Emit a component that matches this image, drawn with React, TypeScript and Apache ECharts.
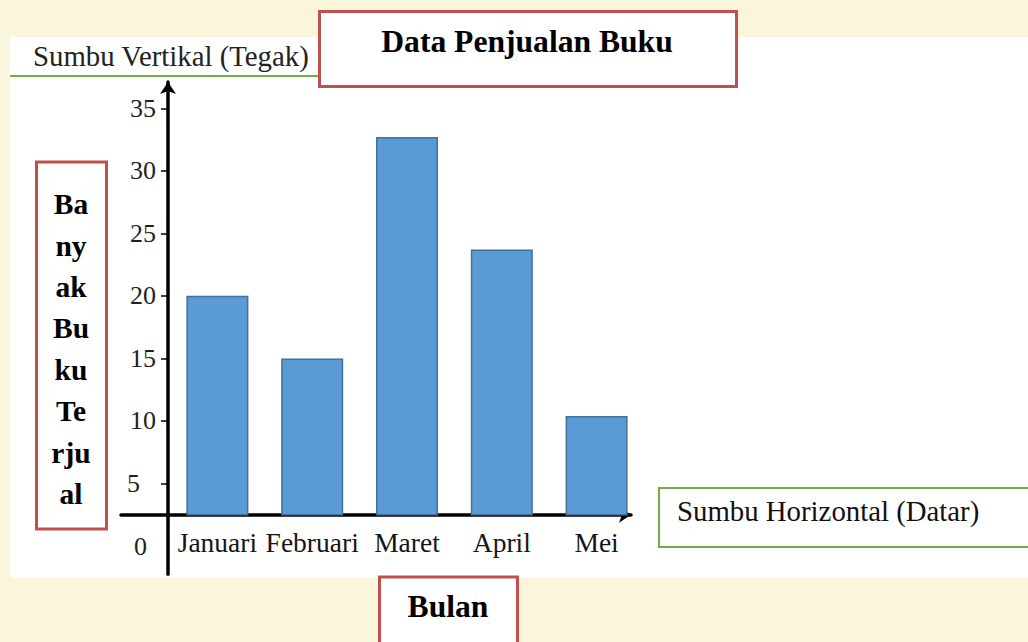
import React, { useEffect, useRef } from 'react';
import * as echarts from 'echarts';

// ---- data ----
const months = ['Januari', 'Februari', 'Maret', 'April', 'Mei'];
const booksSold = [20, 15, 32.7, 23.7, 10.4];
const yTickValues = [5, 10, 15, 20, 25, 30, 35];
const yLabelValues = [0, 5, 10, 15, 20, 25, 30, 35];
const xAxisBase = 2.5; // value where the horizontal axis line sits
const yMin = -2.25;
const yMax = 37.1;

// ---- texts ----
const chartTitle = 'Data Penjualan Buku';
const yAxisTitleLines = ['Ba', 'ny', 'ak', 'Bu', 'ku', 'Te', 'rju', 'al'];
const xAxisTitle = 'Bulan';
const verticalNote = 'Sumbu Vertikal (Tegak)';
const horizontalNote = 'Sumbu Horizontal (Datar)';

const SERIF = '"Liberation Serif", "Times New Roman", serif';
const RED = '#c0504d';
const GREEN = '#70ad47';

export default function App() {
  const ref = useRef<HTMLDivElement>(null);

  useEffect(() => {
    if (!ref.current) return;
    const chart = echarts.init(ref.current, undefined, { renderer: 'svg' });

    const unitPx = 12.507;
    const gridTop = 82;
    const frameHeight = (yMax - yMin) * unitPx;
    const barHeight = (yMax - xAxisBase) * unitPx;
    const frameLeft = 121;
    const yAxisX = 168;

    const option: any = {
      animation: false,
      backgroundColor: '#f9f6dc',
      grid: [
        { left: 170, width: 474, top: gridTop, height: barHeight, containLabel: false },
        { left: frameLeft, width: 510, top: gridTop, height: frameHeight, containLabel: false },
      ],
      xAxis: [
        {
          gridIndex: 0,
          type: 'category',
          data: months,
          boundaryGap: true,
          axisLine: { show: false },
          axisTick: { show: false },
          axisLabel: {
            interval: 0,
            margin: 14,
            fontSize: 27.5,
            fontFamily: SERIF,
            color: '#151515',
          },
          splitLine: { show: false },
        },
        {
          gridIndex: 1,
          type: 'value',
          min: 0,
          max: 1,
          offset: -(xAxisBase - yMin) * unitPx,
          axisLine: {
            show: true,
            onZero: false,
            symbol: ['none', 'arrow'],
            symbolSize: [12, 12],
            lineStyle: { color: '#000', width: 3.5 },
          },
          axisTick: { show: false },
          axisLabel: { show: false },
          splitLine: { show: false },
        },
      ],
      yAxis: [
        {
          gridIndex: 0,
          type: 'value',
          min: xAxisBase,
          max: yMax,
          show: false,
          splitLine: { show: false },
        },
        {
          gridIndex: 1,
          type: 'value',
          min: yMin,
          max: yMax,
          offset: frameLeft - yAxisX,
          axisLine: {
            show: true,
            onZero: false,
            symbol: ['none', 'arrow'],
            symbolSize: [12, 12],
            lineStyle: { color: '#000', width: 3.5 },
          },
          axisTick: {
            show: true,
            length: 7,
            customValues: yTickValues,
            lineStyle: { color: '#000', width: 1.5 },
          },
          axisLabel: {
            customValues: yLabelValues,
            margin: 12,
            fontSize: 26,
            fontFamily: SERIF,
            color: '#1f1f1f',
            formatter: (v: number) =>
              v === 0 ? '{z|0}' : v === 5 ? '{f|5}' : String(v),
            rich: {
              z: { padding: [0, 9, 0, 0], fontSize: 26, fontFamily: SERIF, color: '#1f1f1f' },
              f: { padding: [0, 16, 0, 0], fontSize: 26, fontFamily: SERIF, color: '#1f1f1f' },
            },
          },
          splitLine: { show: false },
        },
      ],
      series: [
        {
          type: 'bar',
          xAxisIndex: 0,
          yAxisIndex: 0,
          data: booksSold,
          barWidth: 62,
          clip: true,
          itemStyle: { color: '#5b9bd5', borderColor: '#41719c', borderWidth: 1.5 },
        },
      ],
      graphic: [
        {
          type: 'rect',
          z: -10,
          silent: true,
          shape: { x: 10, y: 37, width: 1018, height: 541 },
          style: { fill: '#ffffff' },
        },
        {
          type: 'line',
          z: 5,
          shape: { x1: 10, y1: 76, x2: 318, y2: 76 },
          style: { stroke: GREEN, lineWidth: 2 },
        },
        {
          type: 'text',
          z: 6,
          style: {
            text: verticalNote,
            x: 33,
            y: 56,
            fontSize: 28.8,
            fontFamily: SERIF,
            fill: '#222',
            align: 'left',
            verticalAlign: 'middle',
          },
        },
        {
          type: 'rect',
          z: 6,
          shape: { x: 319.5, y: 11.5, width: 417, height: 75 },
          style: { fill: '#fff', stroke: RED, lineWidth: 3 },
        },
        {
          type: 'text',
          z: 7,
          style: {
            text: chartTitle,
            x: 527,
            y: 41,
            fontSize: 31.6,
            fontWeight: 'bold',
            fontFamily: SERIF,
            fill: '#000',
            align: 'center',
            verticalAlign: 'middle',
          },
        },
        {
          type: 'rect',
          z: 6,
          shape: { x: 36.5, y: 162, width: 70, height: 367 },
          style: { fill: '#fff', stroke: RED, lineWidth: 3 },
        },
        {
          type: 'text',
          z: 7,
          style: {
            text: yAxisTitleLines.join('\n'),
            x: 71,
            y: 349,
            fontSize: 29.5,
            lineHeight: 41.4,
            fontWeight: 'bold',
            fontFamily: SERIF,
            fill: '#000',
            align: 'center',
            verticalAlign: 'middle',
          },
        },
        {
          type: 'rect',
          z: 6,
          shape: { x: 659, y: 488, width: 380, height: 59 },
          style: { fill: '#fff', stroke: GREEN, lineWidth: 2 },
        },
        {
          type: 'text',
          z: 7,
          style: {
            text: horizontalNote,
            x: 677,
            y: 510.5,
            fontSize: 28.8,
            fontFamily: SERIF,
            fill: '#111',
            align: 'left',
            verticalAlign: 'middle',
          },
        },
        {
          type: 'rect',
          z: 6,
          shape: { x: 379.5, y: 577, width: 138, height: 80 },
          style: { fill: '#fff', stroke: RED, lineWidth: 3 },
        },
        {
          type: 'text',
          z: 7,
          style: {
            text: xAxisTitle,
            x: 448,
            y: 606,
            fontSize: 31.6,
            fontWeight: 'bold',
            fontFamily: SERIF,
            fill: '#000',
            align: 'center',
            verticalAlign: 'middle',
          },
        },
      ],
    };

    chart.setOption(option);
    return () => chart.dispose();
  }, []);

  return (
    <div
      ref={ref}
      style={{ position: 'fixed', left: 0, top: 0, width: 1028, height: 642 }}
    />
  );
}
